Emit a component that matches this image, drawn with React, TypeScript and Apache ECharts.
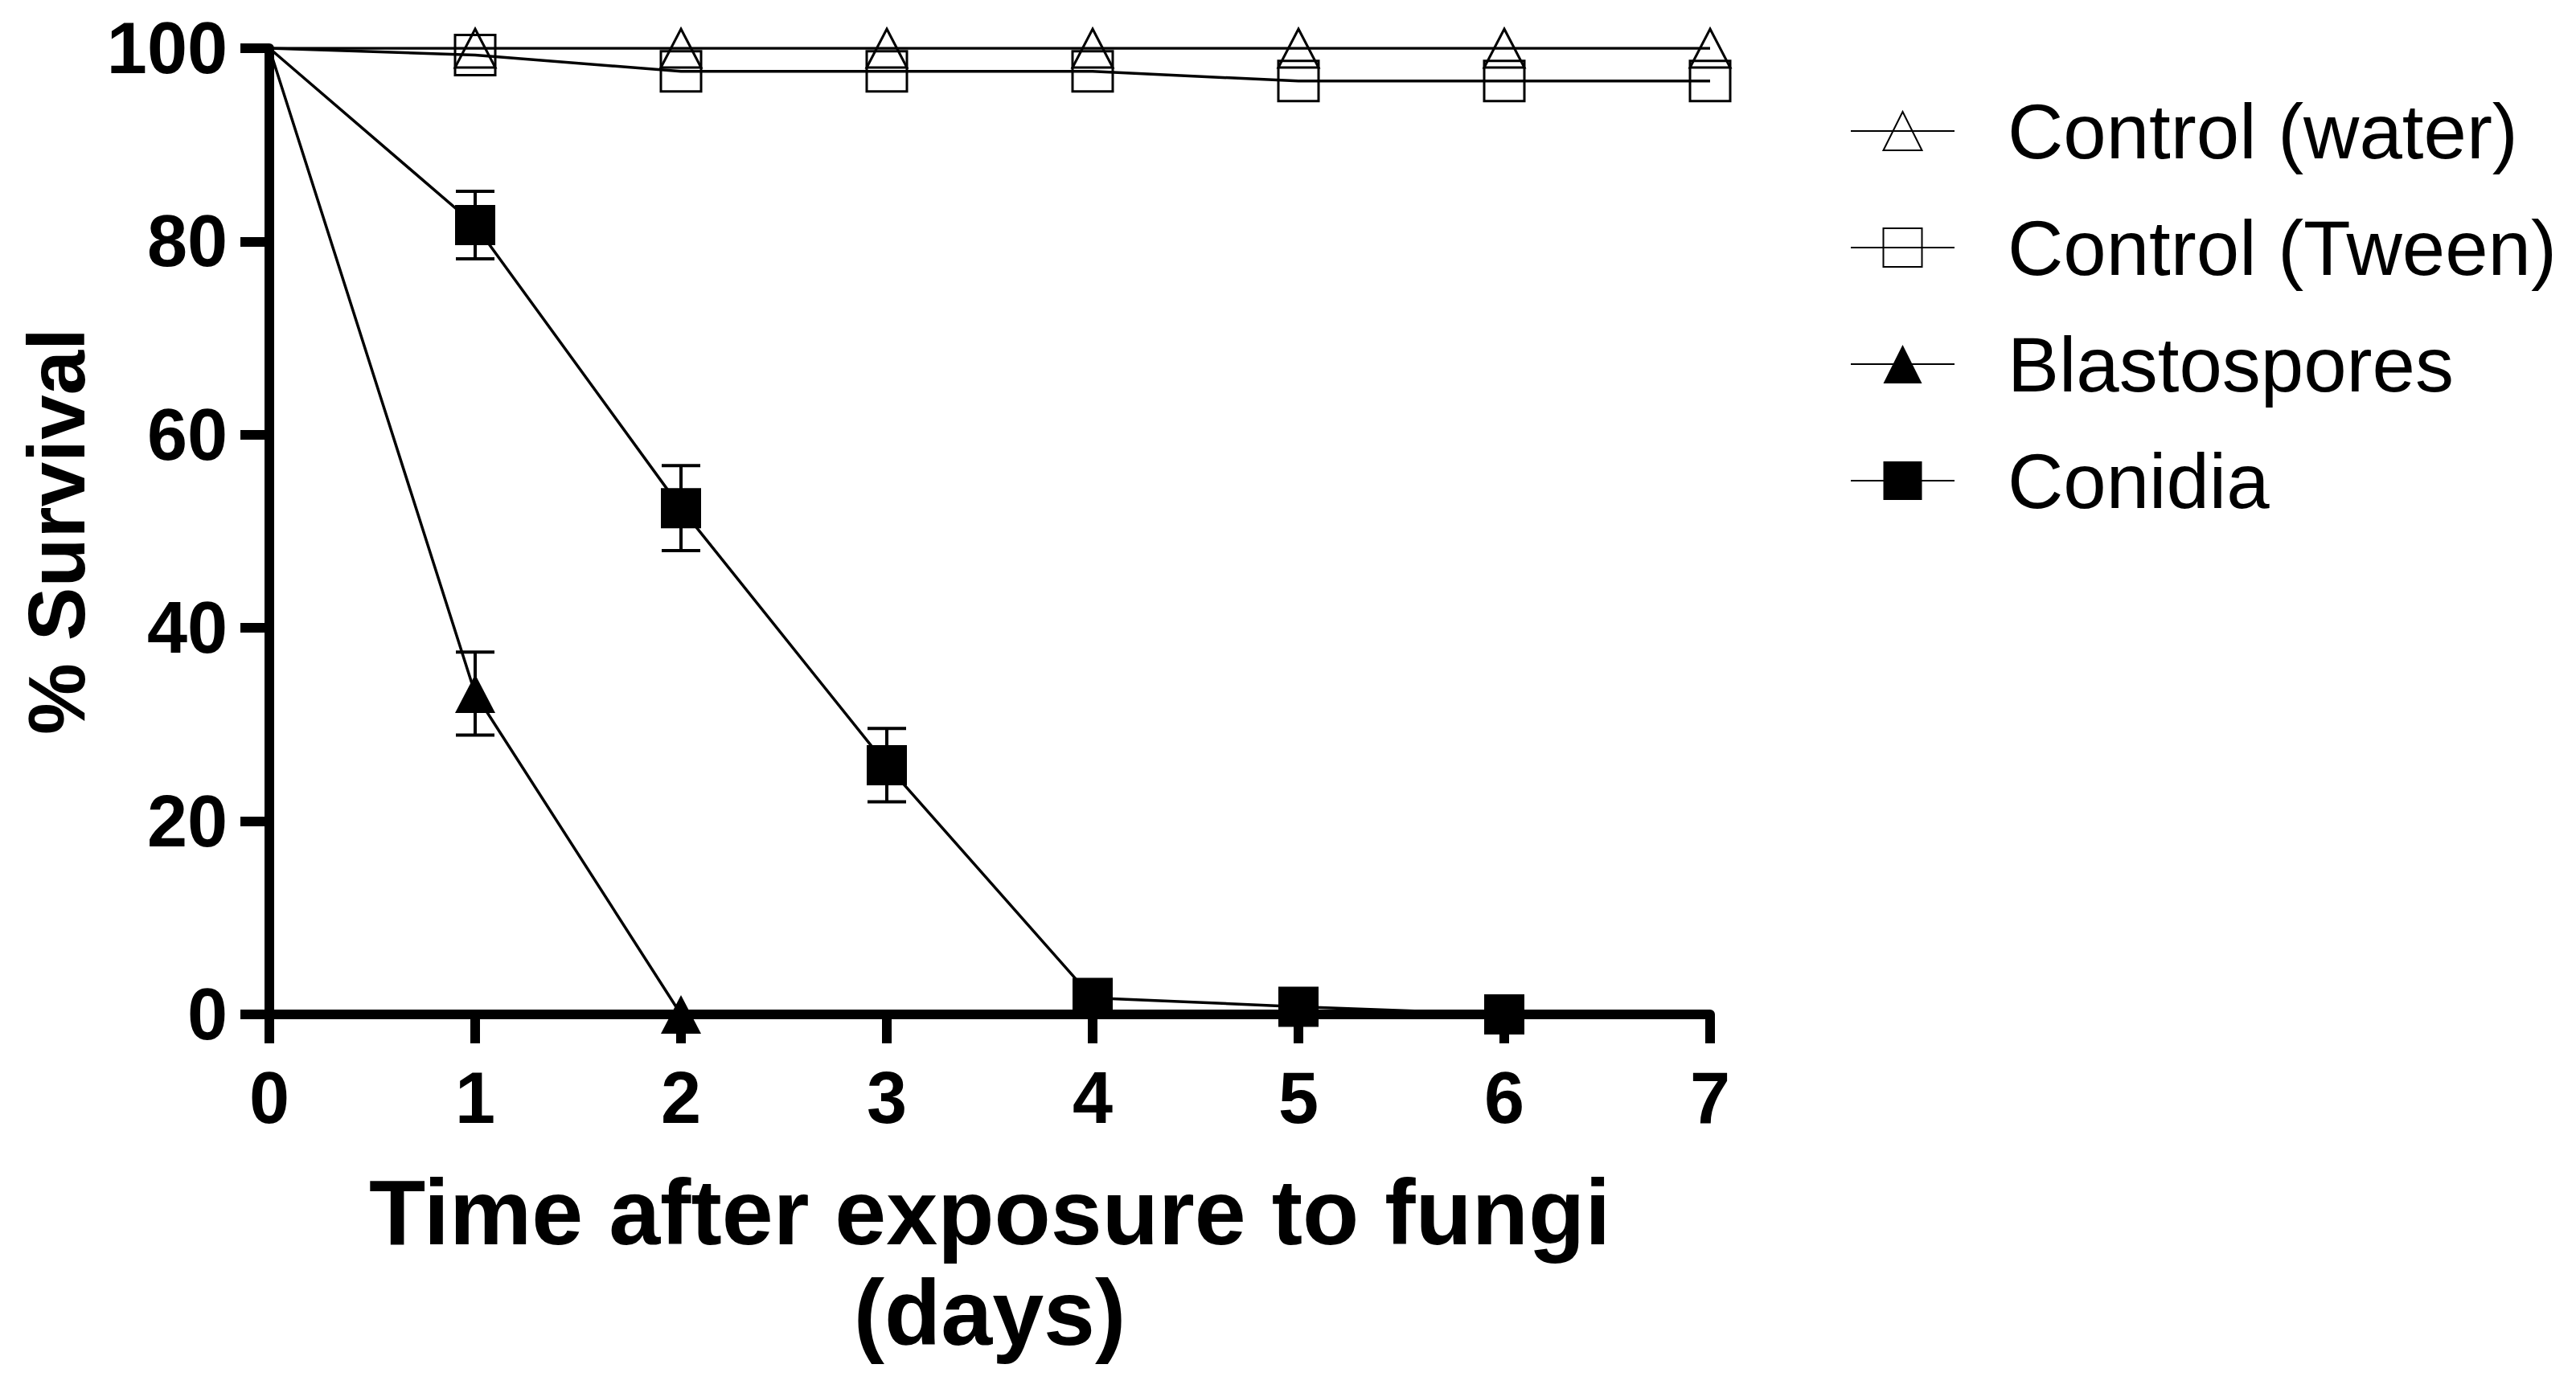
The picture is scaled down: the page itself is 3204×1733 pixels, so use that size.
import React, { useEffect, useRef } from "react";
import * as echarts from "echarts";

const days = [0, 1, 2, 3, 4, 5, 6, 7];
const waterValues = [100, 100, 100, 100, 100, 100, 100, 100];
const tweenValues = [100, 99.3, 97.6, 97.6, 97.6, 96.6, 96.6, 96.6];
const blastoDays = [0, 1, 2];
const blastoValues = [100, 33.2, 0];
const blastoErr = [0, 4.3, 0];
const conidiaDays = [0, 1, 2, 3, 4, 5, 6];
const conidiaValues = [100, 81.7, 52.4, 25.8, 1.7, 0.8, 0];
const conidiaErr = [0, 3.5, 4.4, 3.8, 0, 0, 0];
const xTicks = [0, 1, 2, 3, 4, 5, 6, 7];
const yTicks = [0, 20, 40, 60, 80, 100];

const FONT = "'Liberation Sans', Arial, Helvetica, sans-serif";

function pts(xs: number[], ys: number[]) {
  return xs.map((x, i) =>
    i === 0 ? { value: [x, ys[i]], symbol: "none" } : { value: [x, ys[i]] }
  );
}

function errData(xs: number[], ys: number[], es: number[]) {
  const out: number[][] = [];
  xs.forEach((x, i) => {
    if (es[i] > 0) out.push([x, ys[i] - es[i], ys[i] + es[i]]);
  });
  return out;
}

export default function App() {
  const ref = useRef<HTMLDivElement>(null);
  useEffect(() => {
    if (!ref.current) return;
    const chart = echarts.init(ref.current, null, { renderer: "svg" });
    const lineStyle = { color: "#000", width: 3.5 };
    const errRender = (params: any, api: any) => {
      const x = api.value(0);
      const lo = api.coord([x, api.value(1)]);
      const hi = api.coord([x, api.value(2)]);
      const hw = 24;
      const style = { stroke: "#000", lineWidth: 4, fill: "none" };
      return {
        type: "group",
        children: [
          { type: "line", shape: { x1: lo[0], y1: lo[1], x2: hi[0], y2: hi[1] }, style },
          { type: "line", shape: { x1: hi[0] - hw, y1: hi[1], x2: hi[0] + hw, y2: hi[1] }, style },
          { type: "line", shape: { x1: lo[0] - hw, y1: lo[1], x2: lo[0] + hw, y2: lo[1] }, style },
        ],
      };
    };
    chart.setOption({
      animation: false,
      backgroundColor: "#fff",
      grid: { left: 335, right: 1077, top: 60, bottom: 471 },
      legend: {
        orient: "vertical",
        left: 2296,
        top: 108,
        itemWidth: 129,
        itemHeight: 60,
        itemGap: 45,
        data: ["Control (water)", "Control (Tween)", "Blastospores", "Conidia"],
        textStyle: {
          fontSize: 96,
          lineHeight: 100,
          color: "#000",
          fontFamily: FONT,
          padding: [0, 0, 0, 61],
        },
      },
      xAxis: {
        type: "value",
        min: 0,
        max: 7,
        interval: 1,
        name: "Time after exposure to fungi\n(days)",
        nameLocation: "middle",
        nameGap: 183,
        nameTextStyle: {
          fontSize: 115,
          fontWeight: "bold",
          lineHeight: 125,
          color: "#000",
          fontFamily: FONT,
        },
        axisLine: { lineStyle: { color: "#000", width: 12 } },
        axisTick: { length: 36, lineStyle: { color: "#000", width: 12 } },
        axisLabel: {
          fontSize: 90,
          lineHeight: 90,
          fontWeight: "bold",
          color: "#000",
          fontFamily: FONT,
          margin: 59,
          formatter: (v: number) => (xTicks.includes(v) ? String(v) : ""),
        },
        splitLine: { show: false },
      },
      yAxis: {
        type: "value",
        min: 0,
        max: 100,
        interval: 20,
        name: "% Survival",
        nameLocation: "middle",
        nameGap: 215,
        nameTextStyle: {
          fontSize: 100,
          fontWeight: "bold",
          lineHeight: 100,
          color: "#000",
          fontFamily: FONT,
        },
        axisLine: { lineStyle: { color: "#000", width: 12 } },
        axisTick: { length: 36, lineStyle: { color: "#000", width: 12 } },
        axisLabel: {
          fontSize: 90,
          fontWeight: "bold",
          color: "#000",
          fontFamily: FONT,
          margin: 52,
          formatter: (v: number) => (yTicks.includes(v) ? String(v) : ""),
        },
        splitLine: { show: false },
      },
      series: [
        {
          type: "custom",
          name: "errBlasto",
          renderItem: errRender,
          data: errData(blastoDays, blastoValues, blastoErr),
          z: 1,
          silent: true,
        },
        {
          type: "custom",
          name: "errConidia",
          renderItem: errRender,
          data: errData(conidiaDays, conidiaValues, conidiaErr),
          z: 1,
          silent: true,
        },
        {
          name: "Control (water)",
          type: "line",
          data: pts(days, waterValues),
          symbol: "triangle",
          symbolSize: [50, 48],
          lineStyle,
          itemStyle: { color: "rgba(0,0,0,0)", borderColor: "#000", borderWidth: 3 },
          z: 3,
        },
        {
          name: "Control (Tween)",
          type: "line",
          data: pts(days, tweenValues),
          symbol: "rect",
          symbolSize: 50,
          lineStyle,
          itemStyle: { color: "rgba(0,0,0,0)", borderColor: "#000", borderWidth: 3 },
          z: 3,
        },
        {
          name: "Blastospores",
          type: "line",
          data: pts(blastoDays, blastoValues),
          symbol: "triangle",
          symbolSize: [50, 48],
          lineStyle,
          itemStyle: { color: "#000", borderColor: "#000", borderWidth: 0 },
          z: 3,
        },
        {
          name: "Conidia",
          type: "line",
          data: pts(conidiaDays, conidiaValues),
          symbol: "rect",
          symbolSize: 50,
          lineStyle,
          itemStyle: { color: "#000", borderColor: "#000", borderWidth: 0 },
          z: 3,
        },
      ],
    });
    return () => chart.dispose();
  }, []);
  return (
    <div
      ref={ref}
      style={{ position: "absolute", left: 0, top: 0, width: "3204px", height: "1733px" }}
    />
  );
}
